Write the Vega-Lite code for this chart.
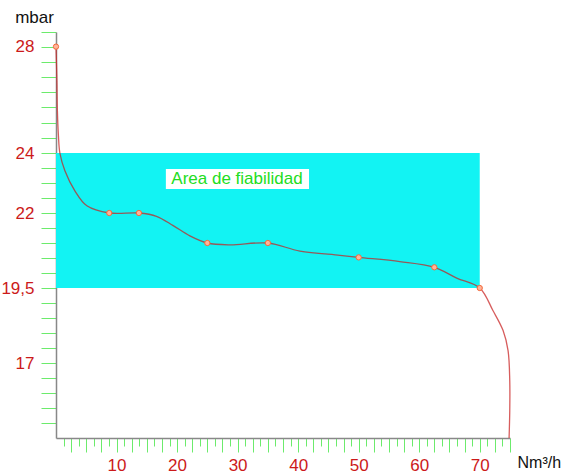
{
  "$schema": "https://vega.github.io/schema/vega-lite/v6.json",
  "width": 454,
  "height": 406,
  "autosize": {"type": "none"},
  "padding": {"left": 56, "top": 32, "right": 61, "bottom": 35},
  "background": "white",
  "config": {"view": {"stroke": null}, "font": "Liberation Sans"},
  "datasets": {
    "band": [{"x": 0, "x2": 70, "y": 24, "y2": 19.5}],
    "labelbox": [{"x": 18.15, "x2": 41.8, "y": 23.47, "y2": 22.8, "cx": 29.9, "cy": 23.12, "text": "Area de fiabilidad"}],
    "curve": [
      {"i": 1, "q": 0, "p": 28},
      {"i": 2, "q": 0.15, "p": 26.74},
      {"i": 3, "q": 0.23, "p": 25.6},
      {"i": 4, "q": 0.4, "p": 24.66},
      {"i": 5, "q": 0.64, "p": 24.0},
      {"i": 6, "q": 1.47, "p": 23.41},
      {"i": 7, "q": 3.12, "p": 22.74},
      {"i": 8, "q": 5.1, "p": 22.24},
      {"i": 9, "q": 8.8, "p": 22.0},
      {"i": 10, "q": 13.7, "p": 22.0},
      {"i": 11, "q": 16.6, "p": 21.89},
      {"i": 12, "q": 19.36, "p": 21.58},
      {"i": 13, "q": 22.11, "p": 21.24},
      {"i": 14, "q": 25, "p": 21.0},
      {"i": 15, "q": 28.7, "p": 20.94},
      {"i": 16, "q": 35, "p": 21.0},
      {"i": 17, "q": 40.3, "p": 20.73},
      {"i": 18, "q": 46.9, "p": 20.59},
      {"i": 19, "q": 50, "p": 20.52},
      {"i": 20, "q": 56.8, "p": 20.38},
      {"i": 21, "q": 62.5, "p": 20.19},
      {"i": 22, "q": 66.2, "p": 19.83},
      {"i": 23, "q": 70, "p": 19.5},
      {"i": 24, "q": 72.2, "p": 18.74},
      {"i": 25, "q": 73.86, "p": 18.08},
      {"i": 26, "q": 74.68, "p": 17.41},
      {"i": 27, "q": 74.96, "p": 16.41},
      {"i": 28, "q": 74.96, "p": 15.41},
      {"i": 29, "q": 74.85, "p": 14.5}
    ],
    "markers": [
      {"q": 0, "p": 28},
      {"q": 8.8, "p": 22.0},
      {"q": 13.7, "p": 22.0},
      {"q": 25, "p": 21.0},
      {"q": 35, "p": 21.0},
      {"q": 50, "p": 20.52},
      {"q": 62.5, "p": 20.19},
      {"q": 70, "p": 19.5}
    ]
  },
  "layer": [
    {
      "data": {"name": "band"},
      "mark": {"type": "rect", "fill": "#12F3F3"},
      "encoding": {
        "x": {
          "field": "x", "type": "quantitative",
          "scale": {"domain": [0, 75], "nice": false, "zero": false},
          "axis": {
            "values": [1.25, 2.5, 3.75, 5, 6.25, 7.5, 8.75, 10, 11.25, 12.5, 13.75, 15, 16.25, 17.5, 18.75, 20, 21.25, 22.5, 23.75, 25, 26.25, 27.5, 28.75, 30, 31.25, 32.5, 33.75, 35, 36.25, 37.5, 38.75, 40, 41.25, 42.5, 43.75, 45, 46.25, 47.5, 48.75, 50, 51.25, 52.5, 53.75, 55, 56.25, 57.5, 58.75, 60, 61.25, 62.5, 63.75, 65, 66.25, 67.5, 68.75, 70, 71.25, 72.5, 73.75, 75],
            "tickCount": 200,
            "tickSize": {"condition": {"test": "datum.value % 2.5 === 0", "value": 14}, "value": 8},
            "tickColor": "#6CEB6C",
            "tickWidth": 1,
            "domainColor": "#888888",
            "domainWidth": 1.5,
            "grid": false,
            "labelExpr": "datum.value % 10 === 0 ? format(datum.value, 'd') : ''",
            "labelOverlap": false,
            "labelFlush": false,
            "labelPadding": 5,
            "labelFontSize": 17,
            "labelColor": "#CC1A1A",
            "title": "Nm³/h",
            "titleFontSize": 16,
            "titleFontWeight": "normal",
            "titleColor": "#111111",
            "titleAlign": "left",
            "titleBaseline": "middle",
            "titleX": 461,
            "titleY": 24
          }
        },
        "x2": {"field": "x2"},
        "y": {
          "field": "y", "type": "quantitative",
          "scale": {"domain": [14.5, 24, 28.55], "range": [406, 121, 0], "nice": false, "zero": false},
          "axis": {
            "values": [15, 15.5, 16, 16.5, 17, 17.5, 18, 18.5, 19, 19.5, 20, 20.5, 21, 21.5, 22, 22.5, 23, 23.5, 24, 24.571, 25.143, 25.714, 26.286, 26.857, 27.429, 28, 28.55],
            "tickCount": 200,
            "tickSize": 15,
            "tickColor": "#6CEB6C",
            "tickWidth": 1,
            "domainColor": "#888888",
            "domainWidth": 1.5,
            "grid": false,
            "labelExpr": "datum.value === 17 ? '17' : datum.value === 19.5 ? '19,5' : datum.value === 22 ? '22' : datum.value === 24 ? '24' : datum.value === 28 ? '28' : ''",
            "labelOverlap": false,
            "labelFlush": false,
            "labelPadding": 7,
            "labelFontSize": 17,
            "labelColor": "#CC1A1A",
            "title": "mbar",
            "titleAngle": 0,
            "titleFontSize": 17,
            "titleFontWeight": "normal",
            "titleColor": "#111111",
            "titleAlign": "center",
            "titleBaseline": "middle",
            "titleX": -22,
            "titleY": -15
          }
        },
        "y2": {"field": "y2"}
      }
    },
    {
      "data": {"name": "labelbox"},
      "mark": {"type": "rect", "fill": "white"},
      "encoding": {
        "x": {"field": "x", "type": "quantitative"},
        "x2": {"field": "x2"},
        "y": {"field": "y", "type": "quantitative"},
        "y2": {"field": "y2"}
      }
    },
    {
      "data": {"name": "labelbox"},
      "mark": {"type": "text", "fontSize": 17, "color": "#22DD22", "align": "center", "baseline": "middle"},
      "encoding": {
        "x": {"field": "cx", "type": "quantitative"},
        "y": {"field": "cy", "type": "quantitative"},
        "text": {"field": "text"}
      }
    },
    {
      "data": {"name": "curve"},
      "mark": {"type": "line", "interpolate": "catmull-rom", "color": "#C81E1E", "opacity": 0.72, "strokeWidth": 1.3},
      "encoding": {
        "x": {"field": "q", "type": "quantitative"},
        "y": {"field": "p", "type": "quantitative"},
        "order": {"field": "i", "type": "quantitative"}
      }
    },
    {
      "data": {"name": "markers"},
      "mark": {"type": "point", "shape": "circle", "size": 28, "filled": false, "stroke": "#F26A3C", "fill": "#FFB49A", "fillOpacity": 1, "strokeWidth": 1},
      "encoding": {
        "x": {"field": "q", "type": "quantitative"},
        "y": {"field": "p", "type": "quantitative"}
      }
    }
  ]
}
